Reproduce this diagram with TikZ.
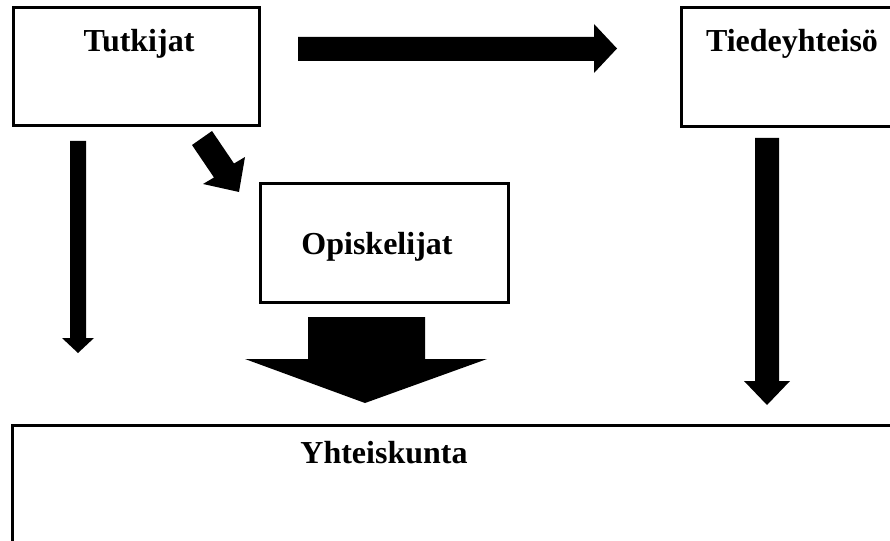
\documentclass[tikz,border=0pt]{standalone}
\usepackage{fontspec}
\setmainfont{Liberation Serif}
\begin{document}
\begin{tikzpicture}[x=1pt,y=-1pt,
  boxstyle/.style={draw=black,line width=3pt,inner sep=0pt,outer sep=0pt},
  labelstyle/.style={font=\fontsize{32}{36}\selectfont\bfseries,anchor=base,inner sep=0pt},
  blockarrow/.style={fill=black,draw=none}]
\useasboundingbox (0,0) rectangle (890,540);
\clip (0,0) rectangle (890,540);
\fill[white] (0,0) rectangle (890,540);
% boxes
\draw[boxstyle] (13.5,8) rectangle (259.5,126);
\coordinate (tutkijatbox) at (136.5,67);
\draw[boxstyle] (681.5,8) rectangle (900,126.5);
\coordinate (tiedebox) at (790,67);
\draw[boxstyle] (260.5,183.5) rectangle (508,302);
\coordinate (opisbox) at (384,243);
\draw[boxstyle] (12.5,425.5) rectangle (900,560);
\coordinate (yhtbox) at (450,480);
% labels
\node[labelstyle] (tutkijat) at (139,52) {Tutkijat};
\node[labelstyle] (tiede) at (792,52) {Tiedeyhteisö};
\node[labelstyle] (opis) at (377,254) {Opiskelijat};
\node[labelstyle] (yht) at (384,463) {Yhteiskunta};
% horizontal arrow
\fill[blockarrow] (298,37) -- (594,37) -- (594,24) -- (617,48.5) -- (594,73) -- (594,61) -- (298,61) -- cycle;
% diagonal arrow
\fill[blockarrow] (192,145) -- (212,131) -- (234,163.5) -- (245,157) -- (239,192) -- (203,184) -- (214,177.5) -- cycle;
% left down arrow
\fill[blockarrow] (70,141) -- (86,141) -- (86,338) -- (94,338) -- (78,353) -- (62,338) -- (70,338) -- cycle;
% right down arrow
\fill[blockarrow] (755,138) -- (779,138) -- (779,381) -- (790,381) -- (767,405) -- (744,381) -- (755,381) -- cycle;
% big down arrow
\fill[blockarrow] (308,317) -- (425,317) -- (425,359) -- (487,359) -- (365,403) -- (245,359) -- (308,359) -- cycle;
\end{tikzpicture}
\end{document}
